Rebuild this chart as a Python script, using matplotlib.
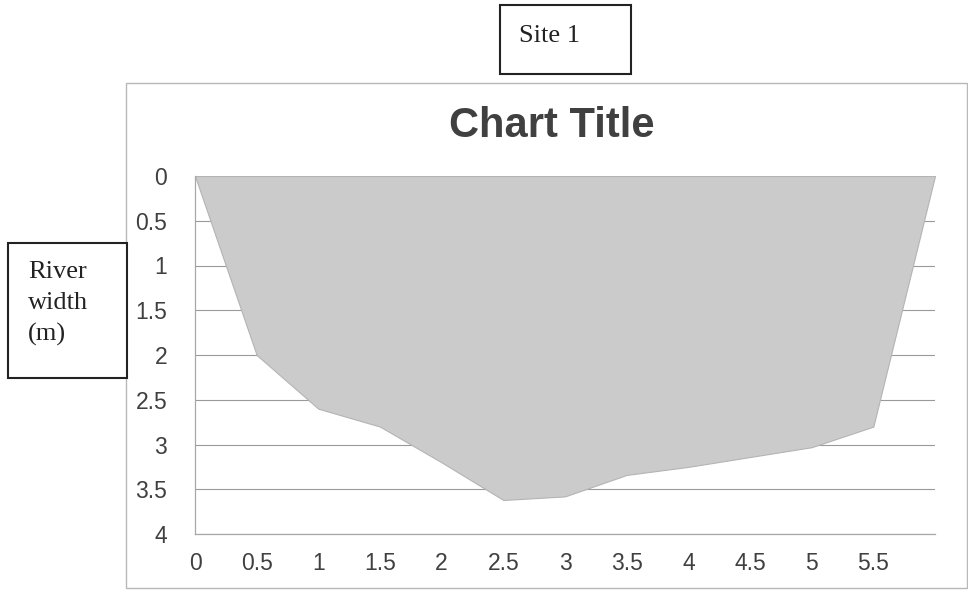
import matplotlib
matplotlib.use("Agg")
import matplotlib.pyplot as plt
from matplotlib.patches import Rectangle

plt.rcParams["font.family"] = ["Liberation Sans", "DejaVu Sans"]

# river cross-section: distance across (m) and depth (m)
distance = [0, 0.5, 1, 1.5, 2, 2.5, 3, 3.5, 4, 4.5, 5, 5.5, 6]
depth = [0, 2.0, 2.6, 2.8, 3.2, 3.62, 3.58, 3.34, 3.25, 3.14, 3.03, 2.8, 0]

x_ticks = [0, 0.5, 1, 1.5, 2, 2.5, 3, 3.5, 4, 4.5, 5, 5.5]
y_ticks = [0, 0.5, 1, 1.5, 2, 2.5, 3, 3.5, 4]

W, H = 968, 594

def fx(px):
	return px / W

def fy(py):
	# pixel rows counted from the top
	return 1 - py / H

fig = plt.figure(figsize=(W / 100, H / 100), dpi=100)
fig.patch.set_facecolor("white")

# outer chart frame
fig.add_artist(Rectangle((fx(126), fy(588)), fx(967) - fx(126), fy(83) - fy(588),
	transform=fig.transFigure, fill=False, edgecolor="#b8b8b8", linewidth=1.0))

ax = fig.add_axes([fx(195), fy(534), fx(935) - fx(195), fy(176) - fy(534)])
ax.set_xlim(0, 6)
ax.set_ylim(4, 0)

for y in y_ticks:
	ax.axhline(y, color="#9a9a9a", linewidth=0.8, zorder=1)

ax.fill_between(distance, 0, depth, facecolor="#cbcbcb", edgecolor="#b4b4b4",
	linewidth=0.8, zorder=2)

ax.set_xticks(x_ticks)
ax.set_xticklabels(["{:g}".format(v) for v in x_ticks])
ax.set_yticks(y_ticks)
ax.set_yticklabels(["{:g}".format(v) for v in y_ticks])
ax.tick_params(axis="both", length=0, labelsize=16.5, labelcolor="#404040")
ax.tick_params(axis="y", pad=20)
ax.tick_params(axis="x", pad=13)

for side in ["top", "right"]:
	ax.spines[side].set_visible(False)
for side in ["left", "bottom"]:
	ax.spines[side].set_color("#a8a8a8")
	ax.spines[side].set_linewidth(0.9)
	ax.spines[side].set_zorder(3)

fig.text(fx(552), fy(126), "Chart Title", ha="center", va="center",
	fontsize=30, fontweight="bold", color="#404040")

# labelled boxes drawn over the chart
fig.add_artist(Rectangle((fx(500), fy(74)), fx(631) - fx(500), fy(5) - fy(74),
	transform=fig.transFigure, facecolor="white", edgecolor="#222222", linewidth=1.5))
fig.text(fx(519), fy(36), "Site 1", ha="left", va="center",
	fontsize=19, color="#222222", family="Liberation Serif")

fig.add_artist(Rectangle((fx(8), fy(378)), fx(127) - fx(8), fy(243) - fy(378),
	transform=fig.transFigure, facecolor="white", edgecolor="#222222", linewidth=1.5))
for i, word in enumerate(["River", "width", "(m)"]):
	fig.text(fx(28), fy(272 + i * 31), word, ha="left", va="center",
		fontsize=19, color="#222222", family="Liberation Serif")

fig.savefig("out.png", dpi=100)
